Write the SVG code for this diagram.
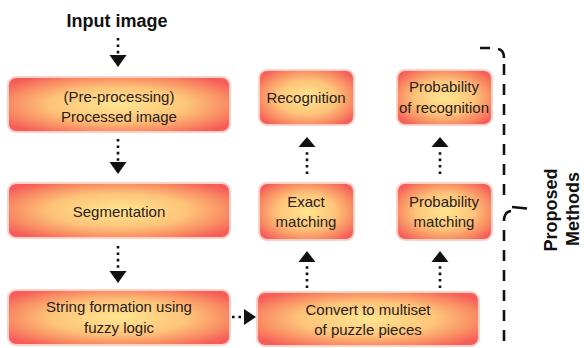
<svg xmlns="http://www.w3.org/2000/svg" width="584" height="348" viewBox="0 0 584 348">
<defs>
<radialGradient id="g" cx="50%" cy="50%" r="62%">
<stop offset="0" stop-color="#FFE690"/>
<stop offset="0.5" stop-color="#FDC479"/>
<stop offset="0.8" stop-color="#F98A62"/>
<stop offset="1" stop-color="#F65C59"/>
</radialGradient>
<style>
.box{fill:url(#g);stroke:#FDD2C6;stroke-width:2}
.t{font-family:"Liberation Sans",Arial,sans-serif;font-size:15px;fill:#2a2020;text-anchor:middle}
.b{font-family:"Liberation Sans",Arial,sans-serif;font-size:18px;font-weight:bold;fill:#111;text-anchor:middle}
.dot{stroke:#111;stroke-width:2.6;stroke-dasharray:2.6 3.8;fill:none}
.head{fill:#111}
.brace{stroke:#111;stroke-width:2.6;stroke-dasharray:11 9;fill:none}
.solid{stroke:#111;stroke-width:2.6;fill:none}
</style>
</defs>
<rect width="584" height="348" fill="#fff"/>
<text class="b" x="117" y="27">Input image</text>
<g id="n1"><rect class="box" x="8" y="77" width="222" height="55" rx="8"/><text class="t" x="119" y="102">(Pre-processing)</text><text class="t" x="119" y="122">Processed image</text></g>
<g id="n2"><rect class="box" x="8" y="183" width="222" height="55" rx="8"/><text class="t" x="119" y="217">Segmentation</text></g>
<g id="n3"><rect class="box" x="8" y="290" width="222" height="55" rx="8"/><text class="t" x="119" y="312">String formation using</text><text class="t" x="119" y="333">fuzzy logic</text></g>
<g id="n4"><rect class="box" x="257" y="292" width="222" height="54" rx="8"/><text class="t" x="368" y="315">Convert to multiset</text><text class="t" x="368" y="335">of puzzle pieces</text></g>
<g id="n5"><rect class="box" x="259" y="183" width="95" height="57" rx="8"/><text class="t" x="306" y="207">Exact</text><text class="t" x="306" y="227">matching</text></g>
<g id="n6"><rect class="box" x="397" y="183" width="95" height="57" rx="8"/><text class="t" x="444" y="207">Probability</text><text class="t" x="444" y="227">matching</text></g>
<g id="n7"><rect class="box" x="259" y="70" width="95" height="55" rx="8"/><text class="t" x="306" y="103">Recognition</text></g>
<g id="n8"><rect class="box" x="397" y="70" width="95" height="55" rx="8"/><text class="t" x="444" y="92">Probability</text><text class="t" x="444" y="113">of recognition</text></g>
<g id="connectors">
<path class="dot" d="M118 38V55"/><polygon class="head" points="109.5,55 126.5,55 118,67"/>
<path class="dot" d="M118 139V162"/><polygon class="head" points="109.5,162 126.5,162 118,174"/>
<path class="dot" d="M118 246V271"/><polygon class="head" points="109.5,271 126.5,271 118,283"/>
<path class="dot" d="M232 317H244"/><polygon class="head" points="244,309 244,325 256,317"/>
<path class="dot" d="M307 288V263"/><polygon class="head" points="298.5,262 315.5,262 307,251"/>
<path class="dot" d="M440 288V263"/><polygon class="head" points="431.5,262 448.5,262 440,251"/>
<path class="dot" d="M307 174V149"/><polygon class="head" points="298.5,147 315.5,147 307,137"/>
<path class="dot" d="M440 174V149"/><polygon class="head" points="431.5,147 448.5,147 440,137"/>
</g>
<g id="brace">
<path class="solid" d="M480 48H490M498 49Q504 50 504 58"/>
<path class="brace" d="M504 64V203"/>
<path class="solid" d="M512 207L527 208.5M504 221Q504 212 511 211"/>
<path class="brace" d="M504 230V343"/>
<text class="b" transform="translate(557,210) rotate(-90)" x="0" y="0">Proposed</text>
<text class="b" transform="translate(579,209) rotate(-90)" x="0" y="0">Methods</text>
</g>
</svg>
